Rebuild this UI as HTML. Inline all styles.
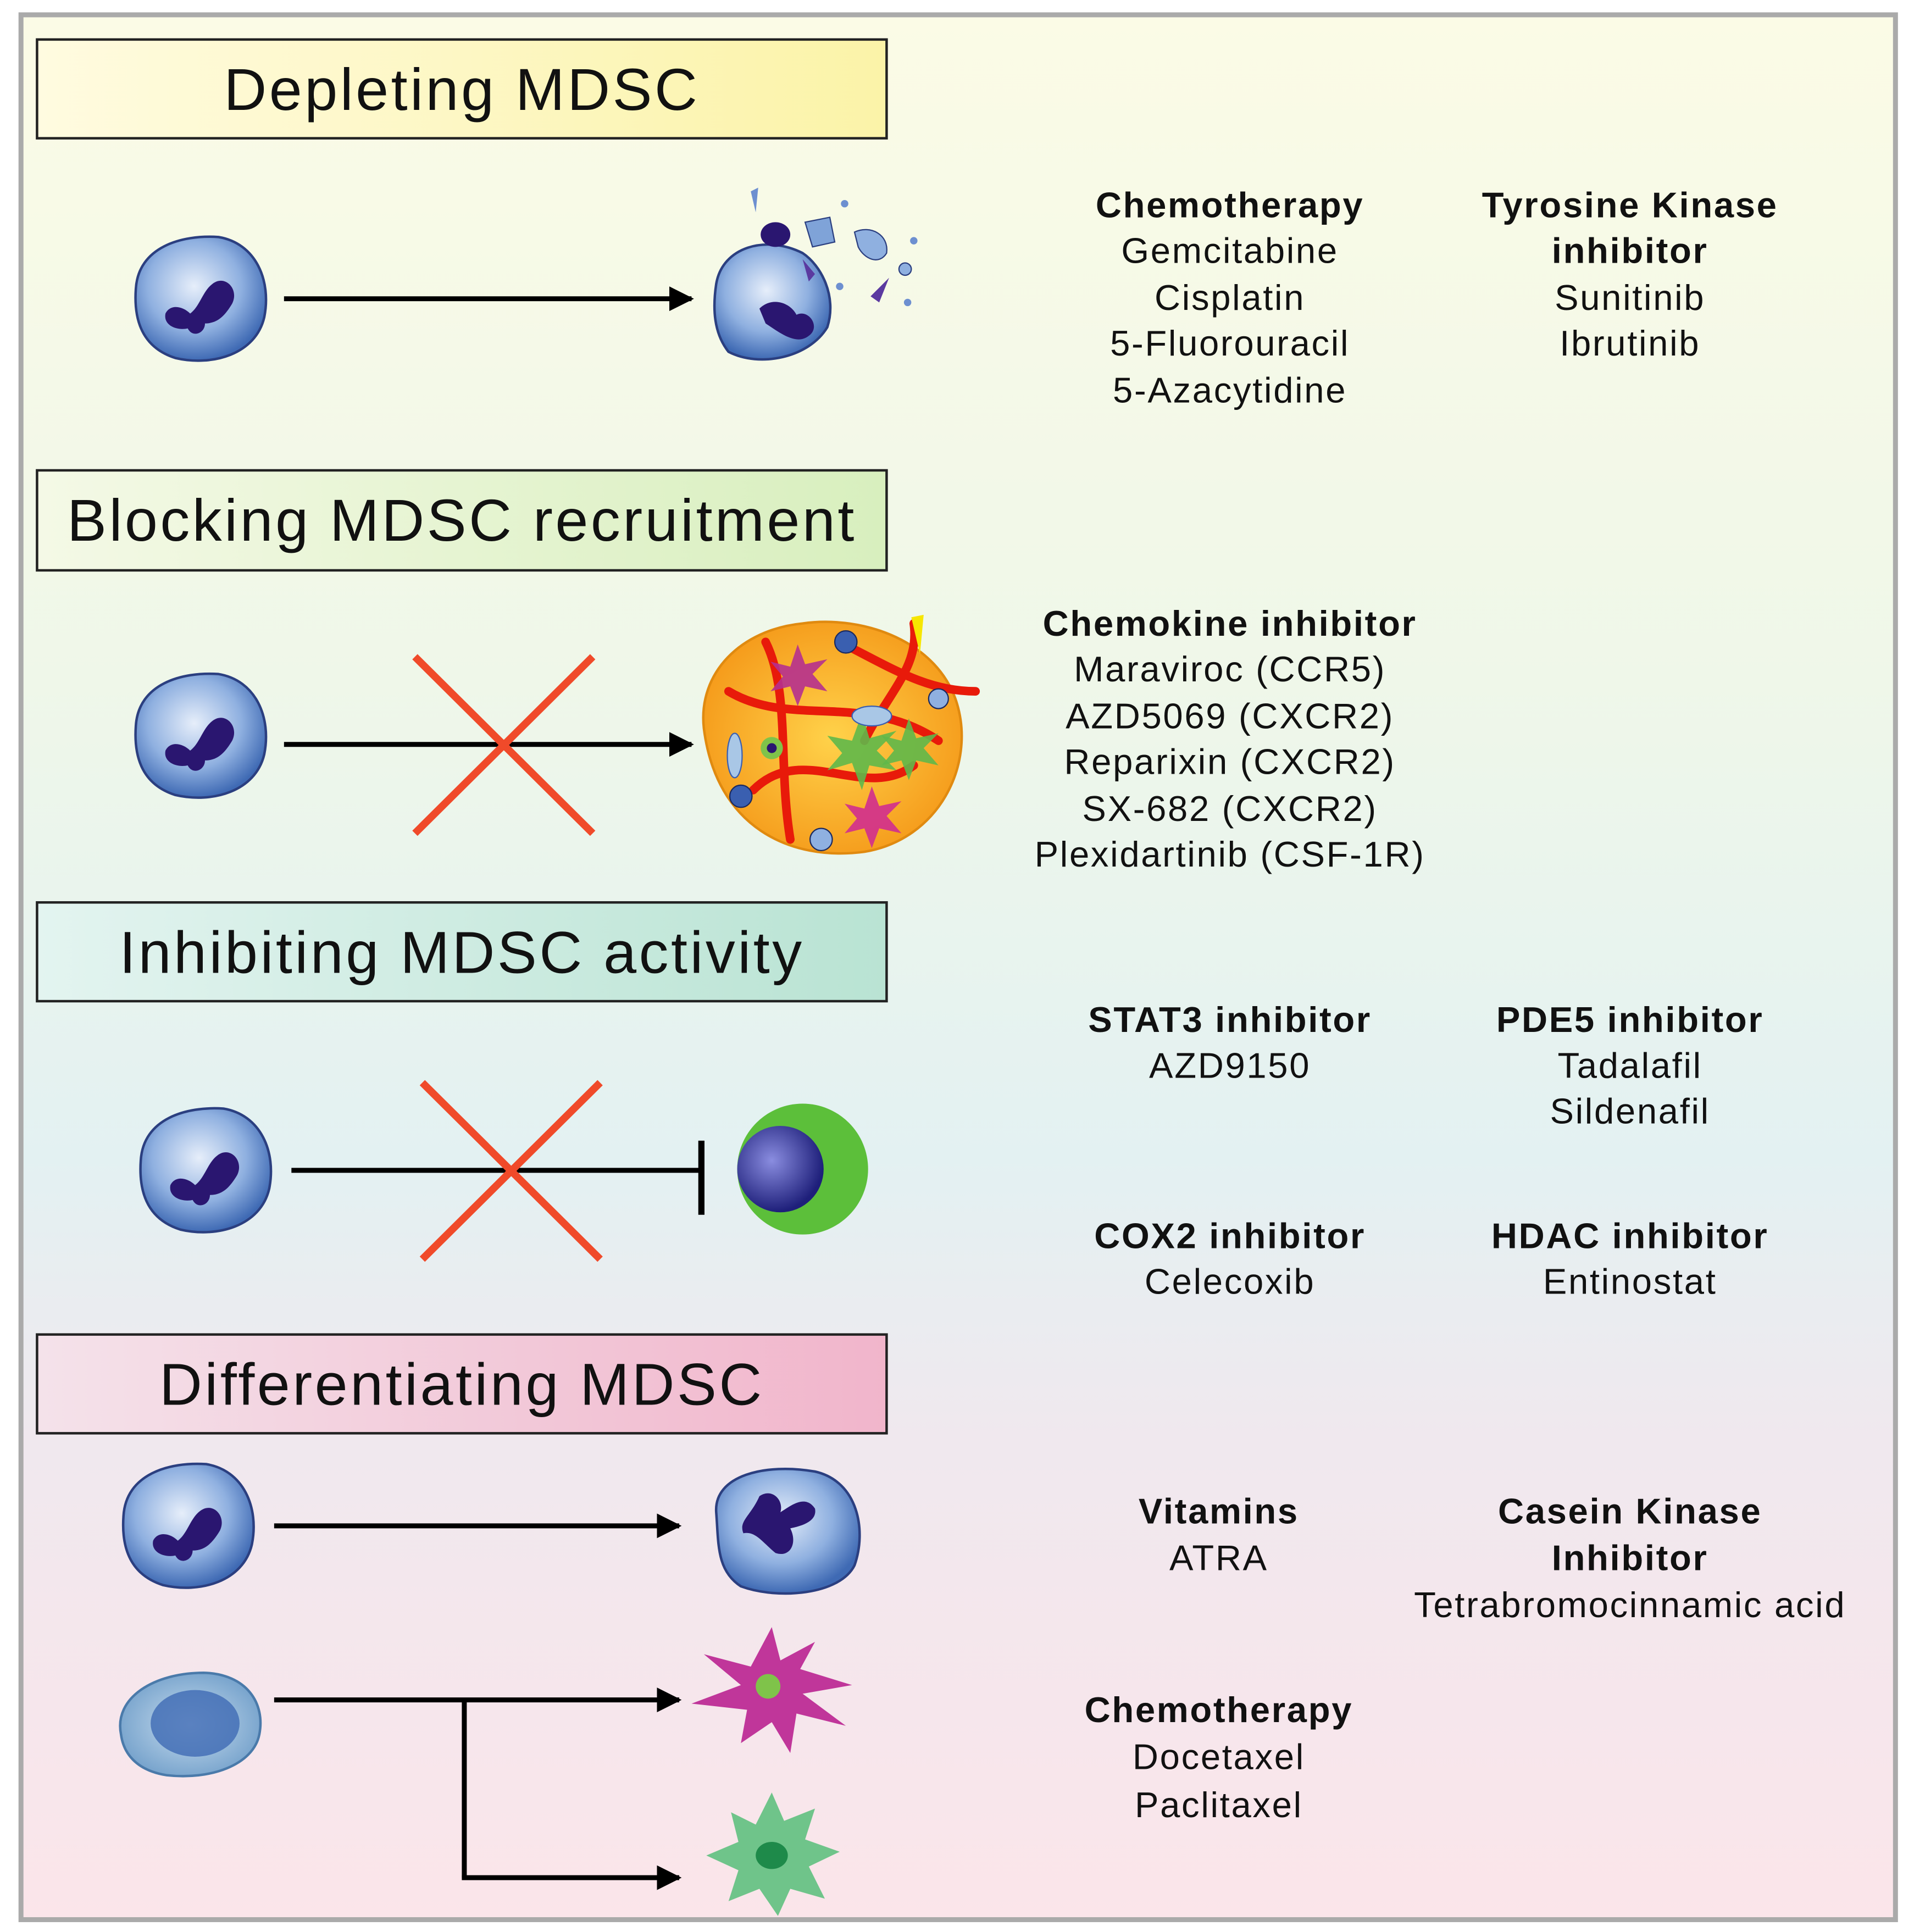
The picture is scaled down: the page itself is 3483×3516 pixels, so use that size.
<!DOCTYPE html>
<html><head><meta charset="utf-8"><style>
html,body{margin:0;padding:0;background:#fff}
svg{display:block}
text{font-family:"Liberation Sans",sans-serif;fill:#111}
</style></head><body>
<svg width="3483" height="3516" viewBox="0 0 1550 1565" preserveAspectRatio="none" xmlns="http://www.w3.org/2000/svg">
<defs>
<linearGradient id="bg" x1="0" y1="0" x2="0" y2="1">
<stop offset="0" stop-color="#fbfbe6"/><stop offset="0.35" stop-color="#eff7e9"/>
<stop offset="0.6" stop-color="#e3f1f2"/><stop offset="0.75" stop-color="#f0e8ee"/><stop offset="1" stop-color="#fbe5ea"/></linearGradient>
<linearGradient id="b1" x1="0" x2="1"><stop offset="0" stop-color="#fffbe0"/><stop offset="1" stop-color="#fbf3a8"/></linearGradient>
<linearGradient id="b2" x1="0" x2="1"><stop offset="0" stop-color="#f4f9e6"/><stop offset="1" stop-color="#d8efbe"/></linearGradient>
<linearGradient id="b3" x1="0" x2="1"><stop offset="0" stop-color="#e3f4f0"/><stop offset="1" stop-color="#b9e3d3"/></linearGradient>
<linearGradient id="b4" x1="0" x2="1"><stop offset="0" stop-color="#f4e2ea"/><stop offset="1" stop-color="#f1b5cb"/></linearGradient>
<radialGradient id="cell" cx="0.45" cy="0.4" r="0.6"><stop offset="0" stop-color="#e6eefa"/><stop offset="0.6" stop-color="#8fb0e0"/><stop offset="1" stop-color="#3f6ab4"/></radialGradient>
<radialGradient id="mono" cx="0.5" cy="0.5" r="0.6"><stop offset="0" stop-color="#c7dcee"/><stop offset="1" stop-color="#6d9cc8"/></radialGradient>
<radialGradient id="tn" cx="0.4" cy="0.4" r="0.6"><stop offset="0" stop-color="#8a8de0"/><stop offset="1" stop-color="#1e1f7a"/></radialGradient>
<radialGradient id="tum" cx="0.5" cy="0.5" r="0.55"><stop offset="0" stop-color="#ffd24a"/><stop offset="1" stop-color="#f59a1a"/></radialGradient>
<g id="mdsc">
<path d="M-52,-8 C-50,-42 -15,-52 15,-50 C45,-45 58,-15 52,15 C45,45 10,55 -20,48 C-45,40 -54,20 -52,-8Z" fill="url(#cell)" stroke="#2b3f80" stroke-width="2"/>
<path d="M-28,12 C-24,4 -14,6 -8,12 C0,6 2,-6 10,-12 C20,-20 32,-8 26,4 C20,14 14,20 4,20 C4,28 -6,32 -10,24 C-18,26 -30,22 -28,12Z" fill="#2a1670"/>
</g>
<marker id="ah" viewBox="0 0 10 10" refX="9" refY="5" markerWidth="5" markerHeight="5" orient="auto"><path d="M0,0 L10,5 L0,10 Z" fill="#000"/></marker>
</defs>
<rect x="0" y="0" width="1550" height="1565" fill="#fff"/>
<rect x="17" y="12" width="1518" height="1543" fill="url(#bg)" stroke="#aaa" stroke-width="4"/>

<g font-size="48" text-anchor="middle" letter-spacing="2">
<rect x="30" y="32" width="688" height="80" fill="url(#b1)" stroke="#222" stroke-width="2"/>
<text x="374" y="89">Depleting MDSC</text>
<rect x="30" y="381" width="688" height="81" fill="url(#b2)" stroke="#222" stroke-width="2"/>
<text x="374" y="438">Blocking MDSC recruitment</text>
<rect x="30" y="731" width="688" height="80" fill="url(#b3)" stroke="#222" stroke-width="2"/>
<text x="374" y="788">Inhibiting MDSC activity</text>
<rect x="30" y="1081" width="688" height="80" fill="url(#b4)" stroke="#222" stroke-width="2"/>
<text x="374" y="1138">Differentiating MDSC</text>
</g>

<!-- section 1 -->
<use href="#mdsc" x="162" y="242"/>
<line x1="230" y1="242" x2="560" y2="242" stroke="#000" stroke-width="4" marker-end="url(#ah)"/>
<path d="M580,230 C585,200 620,190 650,205 C665,215 678,240 670,265 C655,290 615,298 590,285 C578,270 577,250 580,230Z" fill="url(#cell)" stroke="#2b3f80" stroke-width="2"/>
<path d="M615,250 C625,240 640,245 645,255 C655,250 665,265 655,272 C645,280 632,270 620,262Z" fill="#2a1670"/>
<ellipse cx="628" cy="190" rx="12" ry="10" fill="#2a1670"/>
<path d="M652,180 L672,176 L676,196 L658,200Z" fill="#7fa3d8" stroke="#2b3f80"/>
<path d="M692,188 C705,182 720,190 718,205 C712,215 700,210 695,200Z" fill="#8fb0e0" stroke="#2b3f80"/>
<path d="M608,155 L614,152 L612,172Z" fill="#6d8fd0"/>
<circle cx="684" cy="165" r="3" fill="#6d8fd0"/><circle cx="740" cy="195" r="3" fill="#6d8fd0"/>
<circle cx="733" cy="218" r="5" fill="#8fb0e0" stroke="#2b3f80"/><circle cx="680" cy="232" r="3" fill="#6d8fd0"/>
<path d="M705,240 L720,225 L712,245Z" fill="#5b3aa0"/><circle cx="735" cy="245" r="3" fill="#6d8fd0"/>
<path d="M650,210 L660,222 L655,228Z" fill="#5b3aa0"/>

<g font-size="29" text-anchor="middle" letter-spacing="1.2">
<text x="996" y="176" font-weight="bold">Chemotherapy</text>
<text x="996" y="213">Gemcitabine</text><text x="996" y="251">Cisplatin</text>
<text x="996" y="288">5-Fluorouracil</text><text x="996" y="326">5-Azacytidine</text>
<text x="1320" y="176" font-weight="bold">Tyrosine Kinase</text>
<text x="1320" y="213" font-weight="bold">inhibitor</text>
<text x="1320" y="251">Sunitinib</text><text x="1320" y="288">Ibrutinib</text>

<text x="996" y="515" font-weight="bold">Chemokine inhibitor</text>
<text x="996" y="552">Maraviroc (CCR5)</text><text x="996" y="590">AZD5069 (CXCR2)</text>
<text x="996" y="627">Reparixin (CXCR2)</text><text x="996" y="665">SX-682 (CXCR2)</text>
<text x="996" y="702">Plexidartinib (CSF-1R)</text>

<text x="996" y="836" font-weight="bold">STAT3 inhibitor</text><text x="996" y="873">AZD9150</text>
<text x="1320" y="836" font-weight="bold">PDE5 inhibitor</text><text x="1320" y="873">Tadalafil</text><text x="1320" y="910">Sildenafil</text>
<text x="996" y="1011" font-weight="bold">COX2 inhibitor</text><text x="996" y="1048">Celecoxib</text>
<text x="1320" y="1011" font-weight="bold">HDAC inhibitor</text><text x="1320" y="1048">Entinostat</text>

<text x="987" y="1234" font-weight="bold">Vitamins</text><text x="987" y="1272">ATRA</text>
<text x="1320" y="1234" font-weight="bold">Casein Kinase</text><text x="1320" y="1272" font-weight="bold">Inhibitor</text>
<text x="1320" y="1310">Tetrabromocinnamic acid</text>
<text x="987" y="1395" font-weight="bold">Chemotherapy</text><text x="987" y="1433">Docetaxel</text><text x="987" y="1472">Paclitaxel</text>
</g>

<!-- section 2 -->
<use href="#mdsc" x="162" y="596"/>
<line x1="230" y1="603" x2="560" y2="603" stroke="#000" stroke-width="4" marker-end="url(#ah)"/>
<line x1="336" y1="532" x2="480" y2="675" stroke="#f04a2a" stroke-width="6"/>
<line x1="480" y1="532" x2="336" y2="675" stroke="#f04a2a" stroke-width="6"/>
<path d="M570,590 C565,545 600,510 650,505 C700,498 760,520 775,570 C790,620 760,680 700,690 C640,698 580,670 570,590Z" fill="url(#tum)" stroke="#e08a10" stroke-width="2"/>
<g stroke="#e81a0a" stroke-width="7" fill="none" stroke-linecap="round">
<path d="M590,560 C640,590 700,560 760,600"/><path d="M610,640 C650,600 700,650 740,620"/>
<path d="M740,505 C745,540 720,560 700,600"/><path d="M620,520 C640,560 630,620 640,680"/>
<path d="M680,520 C720,540 750,560 790,560"/>
</g>
<path d="M738,500 L748,498 L745,530Z" fill="#f7e600"/>
<circle cx="685" cy="520" r="9" fill="#3a5fb0" stroke="#1b2a60"/><circle cx="600" cy="645" r="9" fill="#3a5fb0" stroke="#1b2a60"/>
<circle cx="625" cy="606" r="9" fill="#7fc34a"/><circle cx="625" cy="606" r="4" fill="#2a1670"/>
<circle cx="760" cy="566" r="8" fill="#8fb0e0" stroke="#1b2a60"/><circle cx="665" cy="680" r="9" fill="#8fb0e0" stroke="#1b2a60"/>
<path d="M690,600 l8,-22 l6,20 l22,-6 l-16,16 l16,16 l-22,-4 l-6,20 l-8,-22 l-20,6 l12,-14 l-12,-14Z" fill="#5fb84a" opacity="0.9"/>
<path d="M730,600 l6,-18 l6,16 l18,-4 l-12,12 l12,14 l-18,-4 l-6,16 l-6,-16 l-16,4 l10,-12 l-10,-12Z" fill="#5fb84a" opacity="0.9"/>
<path d="M640,540 l6,-18 l6,16 l18,-4 l-12,12 l12,14 l-18,-4 l-6,16 l-6,-16 l-16,4 l10,-12 l-10,-12Z" fill="#b5308f" opacity="0.9"/>
<path d="M700,655 l6,-18 l6,16 l18,-4 l-12,12 l12,14 l-18,-4 l-6,16 l-6,-16 l-16,4 l10,-12 l-10,-12Z" fill="#d02d8f" opacity="0.9"/>
<ellipse cx="706" cy="580" rx="16" ry="8" fill="#a9c7e6" stroke="#3a5fb0"/><ellipse cx="595" cy="612" rx="6" ry="18" fill="#a9c7e6" stroke="#3a5fb0"/>

<!-- section 3 -->
<use href="#mdsc" x="166" y="948"/>
<line x1="236" y1="948" x2="568" y2="948" stroke="#000" stroke-width="4"/>
<line x1="568" y1="924" x2="568" y2="984" stroke="#000" stroke-width="5"/>
<line x1="342" y1="877" x2="486" y2="1020" stroke="#f04a2a" stroke-width="6"/>
<line x1="486" y1="877" x2="342" y2="1020" stroke="#f04a2a" stroke-width="6"/>
<circle cx="650" cy="947" r="53" fill="#5cbf3a"/>
<circle cx="632" cy="947" r="35" fill="url(#tn)"/>

<!-- section 4 -->
<use href="#mdsc" x="152" y="1236"/>
<line x1="222" y1="1236" x2="550" y2="1236" stroke="#000" stroke-width="4" marker-end="url(#ah)"/>
<path d="M580,1225 C578,1195 620,1185 660,1192 C695,1200 702,1240 692,1268 C680,1292 630,1296 600,1285 C580,1272 582,1250 580,1225Z" fill="url(#cell)" stroke="#2b3f80" stroke-width="2"/>
<path d="M615,1212 C625,1205 635,1215 632,1225 C640,1220 652,1210 660,1222 C662,1232 650,1236 640,1238 C646,1250 640,1262 628,1258 C618,1250 612,1240 602,1242 C598,1232 608,1228 615,1212Z" fill="#2a1670"/>
<path d="M98,1405 C92,1375 125,1355 165,1355 C200,1356 215,1380 210,1405 C205,1430 170,1442 135,1438 C110,1434 100,1420 98,1405Z" fill="url(#mono)" stroke="#4a7aaa" stroke-width="2"/>
<ellipse cx="158" cy="1396" rx="36" ry="27" fill="#3f6ab4" opacity="0.8"/>
<line x1="222" y1="1377" x2="550" y2="1377" stroke="#000" stroke-width="4" marker-end="url(#ah)"/>
<line x1="376" y1="1377" x2="376" y2="1521" stroke="#000" stroke-width="4"/>
<line x1="374" y1="1521" x2="550" y2="1521" stroke="#000" stroke-width="4" marker-end="url(#ah)"/>
<path d="M625,1318 L632,1345 L660,1330 L648,1352 L690,1365 L650,1372 L685,1398 L645,1388 L640,1420 L625,1395 L600,1412 L605,1385 L560,1380 L600,1365 L570,1340 L608,1350Z" fill="#c0369a"/>
<circle cx="622" cy="1366" r="10" fill="#7fc34a"/>
<path d="M625,1452 L635,1475 L660,1465 L652,1490 L680,1500 L655,1512 L668,1538 L640,1530 L630,1552 L615,1530 L590,1540 L598,1515 L572,1503 L598,1492 L592,1468 L612,1478Z" fill="#6fc48a"/>
<ellipse cx="625" cy="1503" rx="13" ry="11" fill="#1e8a4a"/>
</svg>
</body></html>
